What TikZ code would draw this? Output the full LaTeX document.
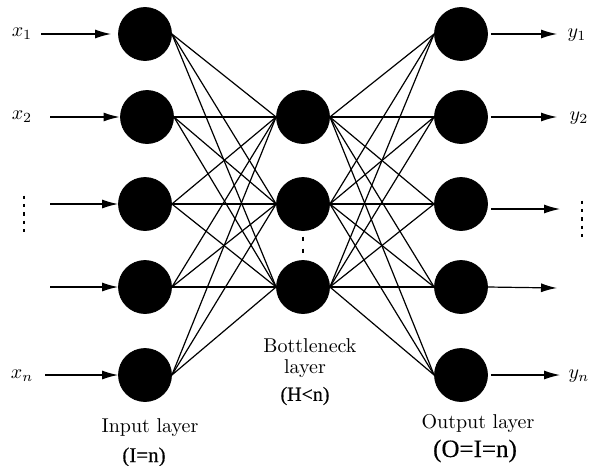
\documentclass[tikz,border=0pt]{standalone}
\usepackage{fontspec}
\newfontfamily\timesfont[FakeBold=0.35]{Liberation Serif}
\usetikzlibrary{arrows.meta}
\begin{document}
\begin{tikzpicture}[x=0.5pt,y=-0.5pt,
  neuron/.style={circle,fill=black,draw=black,line width=0.4pt,minimum size=26.5pt,inner sep=0pt},
  link/.style={line width=0.6pt},
  arr/.style={line width=0.6pt,-{Latex[length=8pt,width=4.5pt]}},
  lab/.style={inner sep=0pt,font=\normalsize},
  paren/.style={inner sep=0pt,font=\timesfont\fontsize{10.5}{12}\selectfont},
  vdots/.style={line width=1.3pt,dash pattern=on 1.6pt off 2.6pt}]
\useasboundingbox (0,0) rectangle (592,465);
% input layer
\node[neuron] (i1) at (145,34) {};
\node[neuron] (i2) at (147,117) {};
\node[neuron] (i3) at (145,204) {};
\node[neuron] (i4) at (145,287) {};
\node[neuron] (i5) at (145,375) {};
% hidden layer
\node[neuron] (h1) at (303,117) {};
\node[neuron] (h2) at (303,204) {};
\node[neuron] (h3) at (303,287) {};
% output layer
\node[neuron] (o1) at (461,34) {};
\node[neuron] (o2) at (461,117) {};
\node[neuron] (o3) at (461,204) {};
\node[neuron] (o4) at (461,287) {};
\node[neuron] (o5) at (461,375) {};
% connections
\foreach \a in {1,...,5}{
  \foreach \b in {1,2,3}{
    \draw[link] (i\a.east) -- (h\b.west);
    \draw[link] (h\b.east) -- (o\a.west);
  }
}
% input arrows
\coordinate (s1) at (41,34);
\coordinate (s2) at (50,117);
\coordinate (s3) at (50,204);
\coordinate (s4) at (50,287);
\coordinate (s5) at (45,375);
\draw[arr,shorten >=3.5pt] (s1) -- (i1.west);
\draw[arr,shorten >=0.3pt] (s2) -- (i2.west);
\draw[arr] (s3) -- (i3.west);
\draw[arr] (s4) -- (i4.west);
\draw[arr] (s5) -- (i5.west);
% output arrows
\coordinate (t1) at (557,34);
\coordinate (t2) at (557,117);
\coordinate (t3s) at (489,209);
\coordinate (t3) at (560,209);
\coordinate (t4) at (557,288);
\coordinate (t5) at (560,375);
\draw[arr,shorten <=1.5pt] (o1.east) -- (t1);
\draw[arr,shorten <=1.5pt] (o2.east) -- (t2);
\draw[arr,shorten <=1pt] (t3s) -- (t3);
\draw[arr] (o4.east) -- (t4);
\draw[arr,shorten <=1.5pt] (o5.east) -- (t5);
% input / output labels
\node[lab] (x1) at (22,34) {$x_1$};
\node[lab] (x2) at (22,117) {$x_2$};
\node[lab] (xn) at (22,376) {$x_n$};
\node[lab] (y1) at (577,35) {$y_1$};
\node[lab] (y2) at (579,118) {$y_2$};
\node[lab] (yn) at (579,376) {$y_n$};
% vertical dots
\coordinate (dl1) at (24,195.5);
\coordinate (dl2) at (24,234);
\draw[vdots] (dl1) -- (dl2);
\coordinate (dr1) at (582,200.5);
\coordinate (dr2) at (582,238);
\draw[vdots] (dr1) -- (dr2);
\coordinate (dh1) at (303,236.5);
\coordinate (dh2) at (303,256);
\draw[line width=1.4pt,dash pattern=on 2pt off 4pt] (dh1) -- (dh2);
% layer labels
\node[lab] (inl) at (150,428) {Input layer};
\node[paren] (inp) at (144,457) {(I=n)};
\node[lab] (bn1) at (310,346) {Bottleneck};
\node[lab] (bn2) at (305,369) {layer};
\node[paren,font=\timesfont\normalsize] (bnp) at (305,396) {(H<n)};
\node[lab] (outl) at (478,423) {Output layer};
\node[paren,font=\timesfont\fontsize{12.5}{14}\selectfont] (outp) at (475,451) {(O=I=n)};
\end{tikzpicture}
\end{document}
